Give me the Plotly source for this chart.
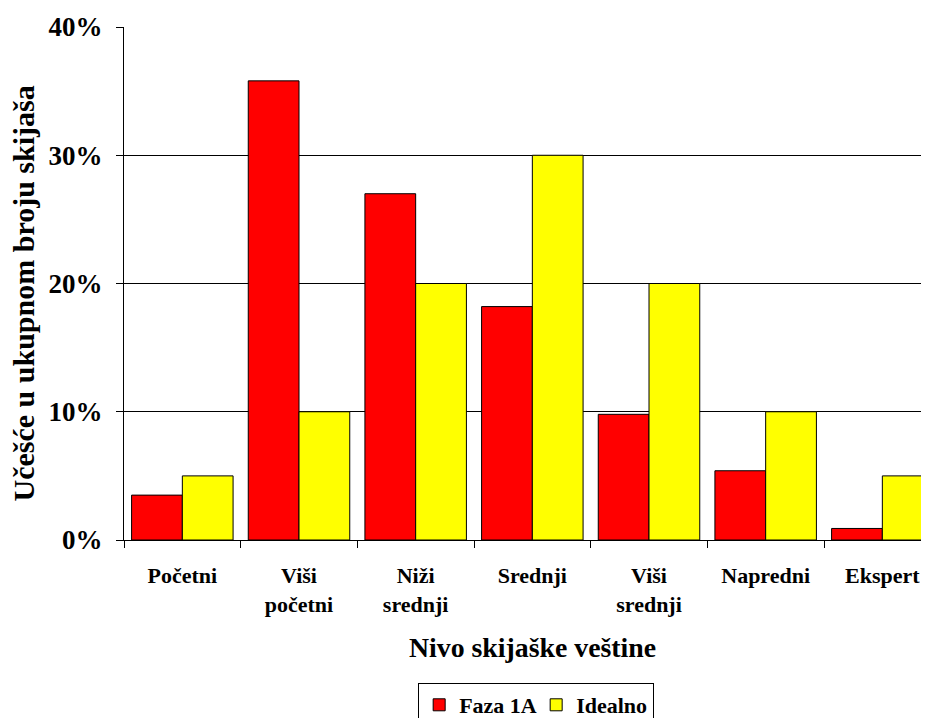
import plotly.graph_objects as go

categories = ["Početni", "Viši<br>početni", "Niži<br>srednji", "Srednji", "Viši<br>srednji", "Napredni", "Ekspert"]
faza_1a = [3.5, 35.8, 27.0, 18.2, 9.8, 5.4, 0.9]
idealno = [5, 10, 20, 30, 20, 10, 5]
y_ticks = [0, 10, 20, 30, 40]
y_tick_labels = ["0%", "10%", "20%", "30%", "40%"]

FONT = "Liberation Serif"

fig = go.Figure()
fig.add_trace(go.Bar(name="<b>Faza 1A</b>", x=categories, y=faza_1a,
                     marker=dict(color="#FF0000", line=dict(color="black", width=1))))
fig.add_trace(go.Bar(name="<b>Idealno</b>", x=categories, y=idealno,
                     marker=dict(color="#FFFF00", line=dict(color="black", width=1))))

fig.update_layout(
    width=921, height=710,
    margin=dict(l=116, r=0, t=19, b=178),
    paper_bgcolor="white", plot_bgcolor="white",
    barmode="group", bargap=0.13, bargroupgap=0,
    font=dict(family=FONT, color="black", size=22),
    showlegend=True,
    legend=dict(orientation="h", x=0.512, xanchor="center",
                yref="container", y=0.0493, yanchor="top",
                bordercolor="black", borderwidth=1, font=dict(size=22, family=FONT),
                itemwidth=30, entrywidth=72, traceorder="normal"),
    annotations=[
        dict(text="<b>Učešće u ukupnom broju skijaša</b>", textangle=-90,
             xref="paper", yref="paper", x=0, xshift=-100, y=0.4805,
             xanchor="center", yanchor="middle", showarrow=False,
             font=dict(size=30, family=FONT, color="black")),
        dict(text="<b>Nivo skijaške veštine</b>",
             xref="paper", yref="paper", x=0.5075, y=-0.2086,
             xanchor="center", yanchor="middle", showarrow=False,
             font=dict(size=27.8, family=FONT, color="black")),
    ],
)
fig.update_xaxes(
    range=[-0.5, 6.4], automargin=False,
    showline=True, linecolor="black", linewidth=1,
    ticks="outside", tickson="boundaries", ticklen=7, tickcolor="black",
    tickfont=dict(size=22, family=FONT), ticklabelstandoff=16,
    tickprefix="<b>", ticksuffix="</b>",
)
fig.update_yaxes(
    range=[0, 40], automargin=False,
    tickvals=y_ticks, ticktext=["<b>" + t + "</b>" for t in y_tick_labels],
    showline=True, linecolor="black", linewidth=1,
    showgrid=True, gridcolor="black", gridwidth=1,
    ticks="outside", ticklen=7, tickcolor="black",
    tickfont=dict(size=27, family=FONT), ticklabelstandoff=8,
    zeroline=False,
)

fig.write_html("out.html")
